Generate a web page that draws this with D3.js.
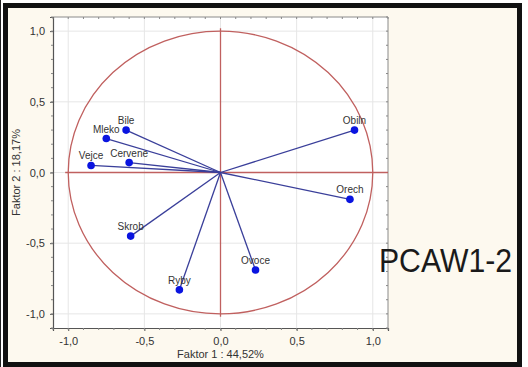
<!DOCTYPE html>
<html><head><meta charset="utf-8">
<script src="https://cdn.jsdelivr.net/npm/d3@7"></script>
<style>body{margin:0;background:#fff}svg{display:block}</style>
</head><body>
<svg id="c" width="528" height="367"></svg>
<script>
const names = ["Bile","Mleko","Cervene","Vejce","Obiln","Orech","Skrob","Ryby","Ovoce"];
const f1 = [-0.62,-0.75,-0.60,-0.85,0.88,0.85,-0.59,-0.27,0.23];
const f2 = [0.30,0.24,0.07,0.05,0.30,-0.19,-0.45,-0.83,-0.69];
const ticks = [-1.0,-0.5,0.0,0.5,1.0];
const xTitle = "Faktor 1 : 44,52%";
const yTitle = "Faktor 2 : 18,17%";
const tag = "PCAW1-2";

const svg = d3.select("#c");
const W=528,H=367;
svg.append("rect").attr("width",W).attr("height",H).attr("fill","#ffffff");
svg.append("line").attr("x1",0.5).attr("x2",0.5).attr("y1",0).attr("y2",H).attr("stroke","#222").attr("stroke-width",1);
svg.append("rect").attr("x",5.5).attr("y",5.5).attr("width",514).attr("height",359)
  .attr("fill","#fdf9ef").attr("stroke","#111").attr("stroke-width",5);

const L=53,R=388,T=17,B=328;
const x=d3.scaleLinear().domain([-1.1,1.1]).range([L,R]);
const y=d3.scaleLinear().domain([-1.1,1.1]).range([B,T]);
const fmt=d=>d3.format(".1f")(d).replace(".",",").replace("−","-");
const FF="Liberation Sans, Arial, sans-serif";

svg.append("rect").attr("x",L).attr("y",T).attr("width",R-L).attr("height",B-T).attr("fill","#fff");
const g=svg.append("g");
ticks.forEach(t=>{
  g.append("line").attr("x1",x(t)).attr("x2",x(t)).attr("y1",T).attr("y2",B).attr("stroke","#e6e6e6");
  g.append("line").attr("x1",L).attr("x2",R).attr("y1",y(t)).attr("y2",y(t)).attr("stroke","#e6e6e6");
});
svg.append("path").attr("d",`M${L},${T}H${R}V${B}`).attr("fill","none").attr("stroke","#8a8a8a");
const minor=d3.range(-11,12).map(i=>i/10);
const xa=svg.append("g").attr("transform",`translate(0,${B})`)
  .call(d3.axisBottom(x).tickValues(ticks).tickFormat(fmt).tickSize(3).tickPadding(6));
const ya=svg.append("g").attr("transform",`translate(${L},0)`)
  .call(d3.axisLeft(y).tickValues(ticks).tickFormat(fmt).tickSize(3).tickPadding(5));
[xa,ya].forEach(a=>{
  a.select(".domain").attr("stroke","#555").attr("stroke-width",1.2);
  a.selectAll(".tick line").attr("stroke","#555");
  a.selectAll("text").attr("font-family",FF).attr("font-size",11).attr("fill","#333");
});
const mg=svg.append("g").attr("stroke","#888");
minor.forEach(m=>{
  mg.append("line").attr("x1",x(m)).attr("x2",x(m)).attr("y1",B).attr("y2",B+2);
  mg.append("line").attr("x1",x(m)).attr("x2",x(m)).attr("y1",T).attr("y2",T+2);
  mg.append("line").attr("x1",L-2).attr("x2",L).attr("y1",y(m)).attr("y2",y(m));
  mg.append("line").attr("x1",R-2).attr("x2",R).attr("y1",y(m)).attr("y2",y(m));
});
const red="#c0605f";
svg.append("ellipse").attr("cx",x(0)).attr("cy",y(0)).attr("rx",x(1)-x(0)).attr("ry",y(0)-y(1))
  .attr("fill","none").attr("stroke",red).attr("stroke-width",1.3);
svg.append("line").attr("x1",x(-1.02)).attr("x2",R).attr("y1",y(0)).attr("y2",y(0)).attr("stroke",red).attr("stroke-width",1.3);
svg.append("line").attr("x1",x(0)).attr("x2",x(0)).attr("y1",y(1.02)).attr("y2",y(-1.02)).attr("stroke",red).attr("stroke-width",1.3);
const data=names.map((n,i)=>({n,a:f1[i],b:f2[i]}));
svg.append("g").selectAll("line").data(data).join("line")
  .attr("x1",x(0)).attr("y1",y(0)).attr("x2",d=>x(d.a)).attr("y2",d=>y(d.b))
  .attr("stroke","#3a3f9a").attr("stroke-width",1.3);
svg.append("g").selectAll("circle").data(data).join("circle")
  .attr("cx",d=>x(d.a)).attr("cy",d=>y(d.b)).attr("r",3.8).attr("fill","#0a14e0");
svg.append("g").selectAll("text").data(data).join("text")
  .attr("x",d=>x(d.a)).attr("y",d=>y(d.b)-6).attr("text-anchor","middle")
  .attr("font-family",FF).attr("font-size",10).attr("fill","#333")
  .text(d=>d.n);
svg.append("text").attr("x",x(0)).attr("y",358).attr("text-anchor","middle")
  .attr("font-family",FF).attr("font-size",11).attr("fill","#333").text(xTitle);
svg.append("text").attr("transform",`translate(20,${y(0)}) rotate(-90)`).attr("text-anchor","middle")
  .attr("font-family",FF).attr("font-size",11).attr("fill","#333").text(yTitle);
svg.append("text").attr("x",379).attr("y",272)
  .attr("font-family",FF).attr("font-size",34).attr("fill","#1a1a1a")
  .attr("textLength",133).attr("lengthAdjust","spacingAndGlyphs").text(tag);
</script>
</body></html>
